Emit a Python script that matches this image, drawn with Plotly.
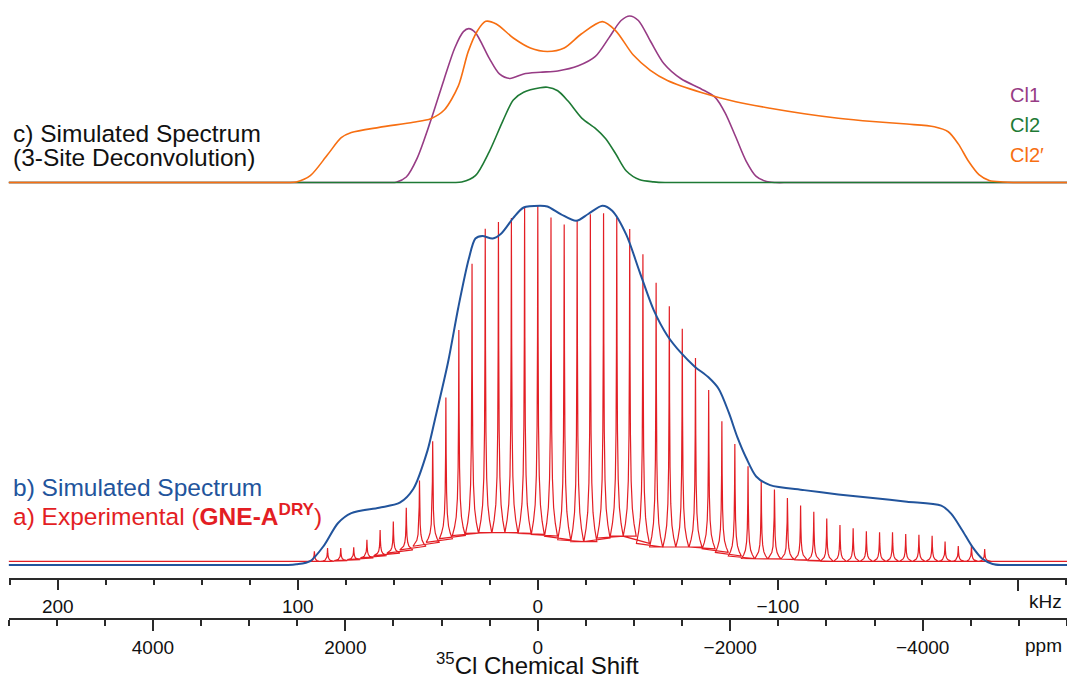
import plotly.graph_objects as go

W, H = 1067, 678

# ---------------- data ----------------
# c) simulated sub-spectra, x in kHz, intensity in arbitrary units (0..100)
cl1_khz = [220.5, 120.0, 70.0, 62.0, 59.0, 54.8, 50.3, 44.6, 39.0, 34.6, 31.0, 28.8, 26.0, 20.2,
           16.0, 11.6, 5.9, -1.0, -8.3, -16.9, -24.0, -29.7, -34.7, -38.3, -41.9, -46.9, -52.5,
           -59.7, -68.1, -74.0, -78.1, -82.5, -86.8, -91.0, -95.3, -99.0, -105.0, -150.0, -220.5]
cl1_int = [0, 0, 0, 0, 0.2, 3.3, 14.5, 37.2, 62.2, 80.8, 90.6, 92.4, 90.0, 74.5,
           65.2, 62.5, 65.2, 66.2, 67.0, 70.1, 75.7, 87.0, 97.3, 100.0, 97.3, 85.0, 71.5,
           62.3, 56.2, 51.0, 41.7, 27.3, 12.9, 3.7, 0.6, 0, 0, 0, 0]

cl2_khz = [220.5, 120.0, 45.0, 35.0, 31.7, 26.0, 20.2, 14.5, 10.2, 5.9, -1.0, -4.0, -8.3, -12.6,
           -18.3, -24.0, -28.3, -32.5, -36.9, -42.5, -48.3, -53.0, -60.0, -120.0, -220.5]
cl2_int = [0, 0, 0, 0, 0.3, 4.1, 18.6, 37.2, 49.6, 54.2, 56.9, 57.2, 55.1, 48.9,
           38.7, 32.5, 26.3, 17.1, 6.9, 1.6, 0.4, 0, 0, 0, 0]

cl2p_khz = [220.5, 160.0, 110.0, 104.0, 100.6, 94.8, 87.7, 81.9, 77.7, 66.1, 51.9, 44.6, 39.0,
            33.1, 29.0, 25.2, 21.7, 17.3, 10.2, 3.1, -4.0, -11.0, -18.1, -26.9, -32.5, -39.7,
            -46.9, -54.0, -68.1, -82.5, -96.8, -111.0, -125.2, -139.6, -153.8, -165.2, -171.0,
            -175.2, -179.4, -183.8, -188.1, -193.8, -198.0, -205.0, -220.5]
cl2p_int = [0, 0, 0, 0, 0.3, 4.1, 16.5, 26.9, 30.0, 33.1, 36.2, 38.3, 43.5,
            58.0, 78.6, 91.0, 96.8, 95.2, 86.8, 80.8, 78.7, 80.8, 89.2, 96.6, 91.1, 76.7,
            67.4, 61.3, 54.1, 48.5, 44.6, 41.3, 38.6, 36.6, 35.1, 33.5, 30.5,
            23.2, 12.9, 4.7, 1.2, 0.3, 0, 0, 0]

# b) simulated total spectrum
sim_khz = [220.5, 160.0, 110.0, 104.0, 100.6, 94.8, 89.1, 83.3, 77.7, 66.1, 57.5, 51.9, 46.0,
           42.9, 37.4, 33.1, 28.8, 26.0, 23.1, 18.8, 15.2, 10.2, 5.9, -1.0, -4.0, -9.7, -16.0,
           -21.0, -26.9, -31.0, -36.9, -42.5, -48.3, -54.0, -59.7, -65.4, -71.0, -75.4, -79.6,
           -83.1, -86.8, -91.0, -96.8, -111.0, -125.2, -139.6, -153.8, -168.1, -172.3, -176.7,
           -181.0, -185.2, -189.5, -193.0, -198.0, -205.0, -220.5]
sim_int = [0, 0, 0, 0, 0.2, 1.1, 5.4, 11.6, 14.4, 15.9, 17.3, 21.1, 31.7,
           40.3, 56.3, 71.6, 84.9, 90.7, 91.4, 90.7, 92.1, 96.4, 99.3, 99.8, 99.6, 97.4, 95.6,
           97.5, 99.8, 98.4, 91.7, 81.3, 70.8, 63.7, 58.9, 55.1, 52.2, 48.9, 42.3,
           35.6, 29.8, 24.6, 22.2, 20.8, 19.6, 18.6, 17.6, 16.5, 14.2, 9.8,
           5.1, 1.75, 0.3, 0, 0, 0, 0]

# a) experimental spinning-sideband manifold: sideband positions (kHz), peak tops, local base level
sb_khz = [93.1, 87.6, 82.1, 76.7, 71.2, 65.7, 60.2, 54.8, 49.3, 43.8, 38.3, 32.9, 27.4, 21.9,
          16.4, 11.0, 5.5, 0.0, -5.5, -11.0, -16.4, -21.9, -27.4, -32.9, -38.3, -43.8, -49.3,
          -54.8, -60.2, -65.7, -71.2, -76.7, -82.1, -87.6, -93.1, -98.6, -104.0, -109.5,
          -115.0, -120.4, -125.9, -131.4, -136.9, -142.4, -147.8, -153.3, -158.8, -164.3,
          -169.7, -175.2, -180.7, -186.2]
sb_top = [3.8, 4.7, 4.7, 4.9, 7.0, 9.7, 12.1, 15.9, 23.5, 34.4, 46.5, 65.3, 83.7, 93.4,
          95.3, 96.4, 99.5, 100.0, 96.5, 94.6, 95.6, 97.4, 97.7, 96.5, 93.3, 86.3, 78.4,
          71.9, 65.6, 57.5, 48.6, 39.9, 33.6, 27.4, 23.3, 21.0, 18.6, 16.5,
          14.8, 12.9, 11.1, 10.2, 9.4, 9.1, 9.1, 8.6, 8.4, 8.1,
          6.5, 5.3, 5.6, 4.4]
sb_base = [1.0, 1.0, 1.2, 1.5, 2.0, 2.6, 3.3, 4.2, 5.2, 6.3, 7.3, 8.2, 8.8, 9.0,
           9.0, 9.0, 8.8, 8.5, 8.0, 7.0, 6.5, 6.5, 7.5, 8.0, 8.0, 6.0, 5.0,
           5.0, 5.0, 5.0, 4.5, 3.5, 2.5, 1.8, 1.7, 1.7, 1.6, 1.4,
           1.2, 1.0, 1.0, 1.0, 1.0, 1.0, 1.0, 1.0, 1.0, 1.0,
           1.0, 1.0, 1.0, 1.0]
exp_baseline = 1.0

khz_ticks = [200, 100, 0, -100]
khz_ticktext = ["200", "100", "0", "\u2212100"]
khz_unlabelled_major = [-200]
ppm_ticks = [4000, 2000, 0, -2000, -4000]
ppm_ticktext = ["4000", "2000", "0", "\u22122000", "\u22124000"]

# ---------------- style ----------------
FONT = "Liberation Sans, Arial, Helvetica, sans-serif"
C_RED = "#E31E24"
C_BLUE = "#22549C"
C_PURPLE = "#973C85"
C_GREEN = "#1E7A35"
C_ORANGE = "#F76F12"
C_AXIS = "#2a2a2a"

# spike line-shape template (style only): offsets in kHz and fraction of peak height
SPIKE_DX = [-2.7, -1.8, -1.1, -0.6, -0.3, -0.12, 0.0, 0.12, 0.3, 0.6, 1.1, 1.8, 2.7]
SPIKE_FR = [0.0, 0.04, 0.09, 0.18, 0.33, 0.6, 1.0, 0.6, 0.33, 0.18, 0.09, 0.04, 0.0]

exp_x = [220.5]
exp_y = [exp_baseline]
for xc, top, base in zip(sb_khz, sb_top, sb_base):
    for dx, fr in zip(SPIKE_DX, SPIKE_FR):
        exp_x.append(xc + dx)
        exp_y.append(base + (top - base) * fr)
exp_x.append(-220.5)
exp_y.append(exp_baseline)


def px(x):
    return x / W


def py(y):
    return (H - y) / H


fig = go.Figure()

SPL = dict(shape="spline", smoothing=0.8)

# top sub-spectra on y2 (purple, green, orange drawn in that order)
fig.add_trace(go.Scatter(x=cl1_khz, y=cl1_int, mode="lines", xaxis="x", yaxis="y2",
                         line=dict(color=C_PURPLE, width=1.6, **SPL),
                         hoverinfo="skip", showlegend=False))
fig.add_trace(go.Scatter(x=cl2_khz, y=cl2_int, mode="lines", xaxis="x", yaxis="y2",
                         line=dict(color=C_GREEN, width=1.6, **SPL),
                         hoverinfo="skip", showlegend=False))
fig.add_trace(go.Scatter(x=cl2p_khz, y=cl2p_int, mode="lines", xaxis="x", yaxis="y2",
                         line=dict(color=C_ORANGE, width=1.6, **SPL),
                         hoverinfo="skip", showlegend=False))

# experimental + simulated on y
fig.add_trace(go.Scatter(x=exp_x, y=exp_y, mode="lines", xaxis="x", yaxis="y",
                         line=dict(color=C_RED, width=1.2),
                         hoverinfo="skip", showlegend=False))
fig.add_trace(go.Scatter(x=sim_khz, y=sim_int, mode="lines", xaxis="x", yaxis="y",
                         line=dict(color=C_BLUE, width=2.0, **SPL),
                         hoverinfo="skip", showlegend=False))
# invisible traces that carry the ppm axis and the unlabelled kHz major tick axis
fig.add_trace(go.Scatter(x=[5500, -5500], y=[0, 0], mode="none", xaxis="x2", yaxis="y",
                         hoverinfo="skip", showlegend=False))
fig.add_trace(go.Scatter(x=[220.5, -220.5], y=[0, 0], mode="none", xaxis="x3", yaxis="y",
                         hoverinfo="skip", showlegend=False))

tickfont = dict(family=FONT, size=19, color="#111")
dom = [8.6 / W, 1.0]

fig.update_layout(
    width=W, height=H,
    margin=dict(l=0, r=0, t=0, b=0),
    paper_bgcolor="white", plot_bgcolor="white",
    showlegend=False,
    xaxis=dict(range=[220.5, -220.5], domain=dom, anchor="free", position=py(578.5),
               showline=True, linecolor=C_AXIS, linewidth=1.5, mirror=False,
               ticks="outside", ticklen=11, tickwidth=1.5, tickcolor=C_AXIS,
               tickvals=khz_ticks, ticktext=khz_ticktext, tickfont=tickfont,
               minor=dict(dtick=20, tick0=0, ticks="outside", ticklen=6, tickwidth=1.5,
                          tickcolor=C_AXIS, showgrid=False),
               showgrid=False, zeroline=False, fixedrange=True),
    xaxis3=dict(range=[220.5, -220.5], overlaying="x", anchor="free", position=py(578.5),
                showline=False, ticks="outside", ticklen=11, tickwidth=1.5, tickcolor=C_AXIS,
                tickvals=khz_unlabelled_major, showticklabels=False,
                showgrid=False, zeroline=False, side="bottom"),
    xaxis2=dict(range=[5500, -5500], overlaying="x", anchor="free", position=py(619),
                showline=True, linecolor=C_AXIS, linewidth=1.5,
                ticks="outside", ticklen=11, tickwidth=1.5, tickcolor=C_AXIS,
                tickvals=ppm_ticks, ticktext=ppm_ticktext, tickfont=tickfont,
                minor=dict(dtick=500, tick0=0, ticks="outside", ticklen=6, tickwidth=1.5,
                           tickcolor=C_AXIS, showgrid=False),
                showgrid=False, zeroline=False, side="bottom"),
    yaxis=dict(range=[-3.75, 105], domain=[py(578.5), py(187)], visible=False, fixedrange=True),
    yaxis2=dict(range=[-2, 102], domain=[py(185.83), py(12.67)], visible=False, fixedrange=True,
                anchor="x"),
)

ann = []


def add_text(text, x, y, size, color, xanchor="left"):
    ann.append(dict(text=text, x=px(x), y=py(y), xref="paper", yref="paper",
                    xanchor=xanchor, yanchor="middle", showarrow=False,
                    font=dict(family=FONT, size=size, color=color)))


add_text("c) Simulated Spectrum", 11, 133, 24.5, "#111")
add_text("(3-Site Deconvolution)", 11, 158, 24.5, "#111")
add_text("b) Simulated Spectrum", 11, 488, 24.5, C_BLUE)
add_text("a) Experimental (<b>GNE-A<sup>DRY</sup></b>)", 11, 514, 24.5, C_RED)
add_text("Cl1", 1008, 95, 20, C_PURPLE)
add_text("Cl2", 1008, 125, 20, C_GREEN)
add_text("Cl2\u2032", 1008, 155, 20, C_ORANGE)
add_text("kHz", 1045, 601, 19, "#111", xanchor="center")
add_text("ppm", 1043, 645, 19, "#111", xanchor="center")
add_text("<sup>35</sup>Cl Chemical Shift", 537, 664, 24, "#111", xanchor="center")

fig.update_layout(annotations=ann)

fig.write_html("out.html")
